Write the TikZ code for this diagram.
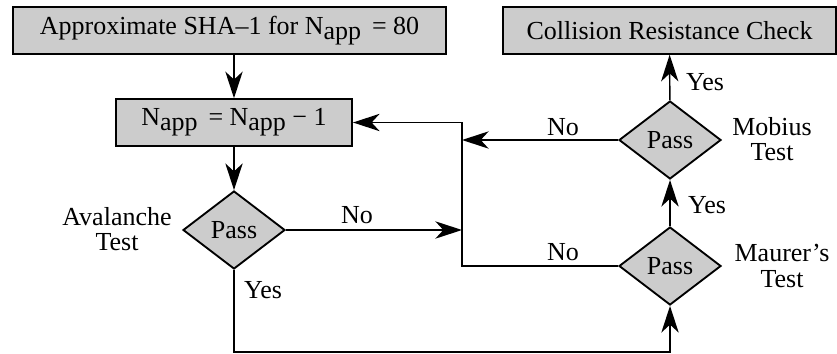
\documentclass[tikz,border=0pt]{standalone}
\usepackage{fontspec}
\setmainfont{Liberation Serif}
\usetikzlibrary{shapes.geometric,arrows.meta}
\definecolor{boxgray}{RGB}{204,204,204}
\newcommand{\Napp}{N\raisebox{-3.75pt}{app}}

\begin{document}
\begin{tikzpicture}[x=0.75pt,y=-0.75pt,line width=1.1pt,
    >={Stealth[length=20pt,width=13pt,inset=6pt]},
    font=\fontsize{19.5}{19}\selectfont]
      \tikzstyle{box}=[draw,rectangle,fill=boxgray,line width=1.4pt,minimum height=35pt,inner sep=0pt];
      \tikzstyle{test}=[draw,diamond,fill=boxgray,line width=1.4pt,inner sep=0pt,minimum width=76.5pt,minimum height=58.5pt];
      \tikzstyle{lbl}=[inner sep=0pt,align=center];
      \useasboundingbox (0,0) rectangle (837,353);

        % boxes and tests
        \path (229.5,30.5) node[box,minimum width=325pt] (start) {Approximate SHA–1 for \Napp{}\, = 80};
        \path (234,122.5)  node[box,minimum width=177pt] (dec) {\Napp{}\, = \Napp{} − 1};
        \path (669.5,30.5) node[box,minimum width=250pt] (check) {Collision Resistance Check};
        \path (234,230)    node[test] (aval) {Pass};
        \path (670,266)    node[test] (maur) {Pass};
        \path (670,140)    node[test] (mob) {Pass};

        \coordinate (jtop) at (462,122.5);
        \coordinate (jbot) at (462,266);
        \coordinate (bot) at (234,352);

        % test names
        \path (117,229) node[lbl] (avalname) {Avalanche\\Test};
        \path (782,266) node[lbl] (maurname) {Maurer’s\\Test};
        \path (772,139) node[lbl] (mobname) {Mobius\\Test};

        % connectors
        \path[->,draw] (start.south -| dec) -- (dec);
        \path[->,draw] (dec) -- (aval);
        \path[->,draw] (aval) -- (aval -| jbot);
        \path[->,draw] (maur) -- (jbot) -- (jtop) -- (dec);
        \path[->,draw] (mob) -- (mob -| jbot);
        \path[->,draw] (aval) -- (bot) -| (maur);
        \path[->,draw] (maur) -- (mob);
        \path[->,draw] (mob) -- (check);

        % branch labels
        \path (357,215) node[lbl] (avalno) {No};
        \path (563,252) node[lbl] (maurno) {No};
        \path (563,127) node[lbl] (mobno) {No};
        \path (263,290) node[lbl] (avalyes) {Yes};
        \path (707,205) node[lbl] (mauryes) {Yes};
        \path (705,82)  node[lbl] (mobyes) {Yes};
    \end{tikzpicture}
\end{document}
